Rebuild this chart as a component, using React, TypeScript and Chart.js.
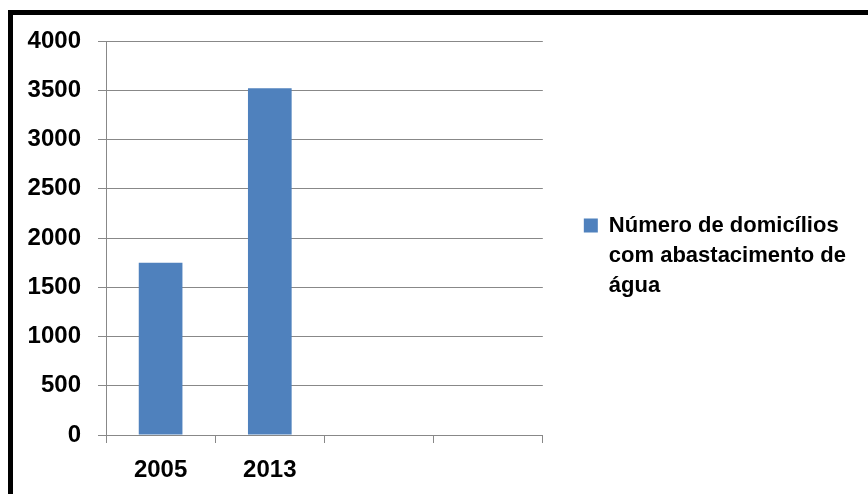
import React, { useEffect, useRef } from "react";
import { Chart, registerables } from "chart.js";

Chart.register(...registerables);

const categories: string[] = ["2005", "2013", "", ""];
const seriesLabel: string[] = ["Número de domicílios", "com abastacimento de", "água"];
const seriesValues: (number | null)[] = [1750, 3520, null, null];
const yTicks: number[] = [0, 500, 1000, 1500, 2000, 2500, 3000, 3500, 4000];

const FONT = "'Liberation Sans', Arial, sans-serif";

export default function App() {
  const ref = useRef<HTMLCanvasElement | null>(null);

  useEffect(() => {
    if (!ref.current) return;
    const chart = new Chart(ref.current, {
      type: "bar",
      data: {
        labels: categories,
        datasets: [
          {
            label: seriesLabel.join(" "),
            data: seriesValues,
            backgroundColor: "#4F81BD",
            borderWidth: 0,
            categoryPercentage: 1,
            barPercentage: 0.4,
          },
        ],
      },
      options: {
        animation: false,
        responsive: false,
        devicePixelRatio: 1,
        layout: { padding: { top: 41, left: 0, right: 12, bottom: 16 } },
        plugins: {
          tooltip: { enabled: false },
          legend: {
            position: "right",
            align: "center",
            maxWidth: 400,
            labels: {
              boxWidth: 14,
              boxHeight: 14,
              padding: 41,
              color: "#000",
              font: { family: FONT, size: 22, weight: "bold", lineHeight: 30 / 22 },
              generateLabels: (c: any) => {
                const items = Chart.defaults.plugins.legend.labels.generateLabels(c);
                return items.map((it: any) => ({ ...it, text: seriesLabel, lineWidth: 0 }));
              },
            },
          },
        },
        scales: {
          x: {
            offset: true,
            grid: {
              display: true,
              drawOnChartArea: false,
              drawTicks: true,
              tickLength: 8,
              offset: true,
              color: "#888",
            },
            border: { display: true, color: "#888", width: 1 },
            ticks: {
              color: "#000",
              padding: 13,
              maxRotation: 0,
              font: { family: FONT, size: 24, weight: "bold" },
            },
            afterFit: (s: any) => {
              s.height = 43;
            },
          },
          y: {
            min: 0,
            max: 4000,
            afterBuildTicks: (s: any) => {
              s.ticks = yTicks.map((v) => ({ value: v }));
            },
            grid: {
              color: "#888",
              tickLength: 8,
              drawTicks: true,
            },
            border: { display: true, color: "#888", width: 1 },
            ticks: {
              color: "#000",
              padding: 17,
              font: { family: FONT, size: 24, weight: "bold" },
              callback: (v: any) => String(v),
            },
            afterFit: (s: any) => {
              s.width = 106;
            },
          },
        },
      },
    });
    return () => chart.destroy();
  }, []);

  return (
    <div
      style={{
        position: "fixed",
        left: 0,
        top: 0,
        width: 868,
        height: 494,
        overflow: "hidden",
        background: "#fff",
      }}
    >
      <canvas
        ref={ref}
        width={868}
        height={494}
        style={{ position: "absolute", left: 0, top: 0, width: 868, height: 494, display: "block" }}
      />
      <div
        style={{
          position: "absolute",
          left: 8,
          top: 10,
          width: 1000,
          height: 1000,
          borderLeft: "5px solid #000",
          borderTop: "5px solid #000",
          pointerEvents: "none",
        }}
      />
    </div>
  );
}
